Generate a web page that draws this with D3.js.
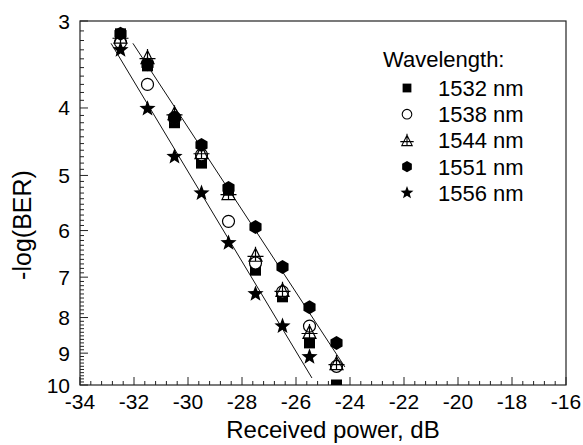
<!DOCTYPE html>
<html>
  <head>
    <meta charset="utf-8">
    <script src="https://d3js.org/d3.v7.min.js"></script>
    <style>
      body { margin: 0; background: #fff; font-family: "Liberation Sans", Arial, sans-serif; }
      .frame { fill: none; stroke: #222; stroke-width: 1.2px; }
      .tick { stroke: #222; stroke-width: 1px; }
      .fit { stroke: #111; stroke-width: 1px; fill: none; }
    </style>
  </head>
  <body>
    <div id="chart"></div>
    <script>
    // received power, dB (one column of points per value)
    var power = [-32.5, -31.5, -30.5, -29.5, -28.5, -27.5, -26.5, -25.5, -24.5]
    // -log(BER)
    var ber1532 = [3.13, 3.48, 4.20, 4.80, 5.25, 6.84, 7.47, 8.70, 10.0]
    var ber1538 = [3.22, 3.70, 4.13, 4.67, 5.82, 6.68, 7.35, 8.23, 9.40]
    var ber1544 = [3.16, 3.38, 4.07, 4.63, 5.30, 6.50, 7.30, 8.39, 9.30]
    var ber1551 = [3.13, 3.46, 4.13, 4.52, 5.21, 5.93, 6.77, 7.73, 8.70]
    var ber1556 = [3.30, 4.01, 4.70, 5.30, 6.25, 7.40, 8.23, 9.11]
    // the two fitted lines, end points [power, -log(BER)]
    var fitA = [[-32.04, 3.23], [-24.19, 9.42]]
    var fitB = [[-32.85, 3.23], [-25.41, 9.77]]

    var xTicks = [-34, -32, -30, -28, -26, -24, -22, -20, -18, -16]
    var yTicks = [3, 4, 5, 6, 7, 8, 9, 10]
    var seriesNames = ["1532 nm", "1538 nm", "1544 nm", "1551 nm", "1556 nm"]

    var W = 583, H = 445
    // plot box (window.top is read-only, so no "top" here)
    var pL = 80, pR = 566, pT = 21, pB = 385

    var x = d3.scaleLinear().domain([-34, -16]).range([pL, pR])
    var y = d3.scaleLog().domain([3, 10]).range([pT, pB])

    var svg = d3.select("#chart").append("svg")
        .attr("width", W).attr("height", H)

    svg.append("defs").append("clipPath").attr("id", "plotclip")
        .append("rect").attr("x", pL).attr("y", pT)
        .attr("width", pR - pL).attr("height", pB - pT)

    // ---- marker shapes
    function hexPath(r) {
        var p = []
        for (var k = 0; k < 6; k++) {
            var a = -Math.PI / 2 + k * Math.PI / 3
            p.push([r * Math.cos(a), r * Math.sin(a)])
        }
        return "M" + p.join("L") + "Z"
    }
    function starPath(R) {
        var p = [], ri = R * 0.42
        for (var k = 0; k < 10; k++) {
            var a = -Math.PI / 2 + k * Math.PI / 5
            var rr = k % 2 ? ri : R
            p.push([rr * Math.cos(a), rr * Math.sin(a)])
        }
        return "M" + p.join("L") + "Z"
    }
    function triPlusPath(w) {
        var h = w
        return "M0," + (-h / 2) + "L" + (w / 2) + "," + (h / 2) + "L" + (-w / 2) + "," + (h / 2) + "Z"
            + "M0," + (-h / 2 - 1.5) + "V" + (h / 2)
            + "M" + (-w / 2 - 1.5) + "," + (h * 0.12) + "H" + (w / 2 + 1.5)
    }
    function squarePath(s) {
        return "M" + (-s / 2) + "," + (-s / 2) + "h" + s + "v" + s + "h" + (-s) + "Z"
    }
    function circlePath(d) {
        return d3.symbol().type(d3.symbolCircle).size(Math.PI * d * d / 4)()
    }

    var styles = [
        {path: function(k){ return squarePath(11 * k) }, fill: "#000", stroke: "none"},
        {path: function(k){ return circlePath(12 * k) }, fill: "#fff", stroke: "#000"},
        {path: function(k){ return triPlusPath(13 * k) }, fill: "none", stroke: "#000"},
        {path: function(k){ return hexPath(7 * k) }, fill: "#000", stroke: "none"},
        {path: function(k){ return starPath(8.5 * k) }, fill: "#000", stroke: "none"}
    ]
    var allSeries = [ber1532, ber1538, ber1544, ber1551, ber1556]

    // ---- ticks (inward)
    var yMinor = d3.range(30, 100).filter(function(d){ return d % 10 != 0 }).map(function(d){ return d / 10 })
    var xMinor = d3.range(-34, -16, 0.4).filter(function(d){ return Math.abs(d / 2 - Math.round(d / 2)) > 0.01 })

    var ticks = svg.append("g")
    ticks.selectAll(".ym").data(yMinor).enter().append("line").attr("class", "tick")
        .attr("x1", pL).attr("x2", pL + 4)
        .attr("y1", function(d){ return y(d) }).attr("y2", function(d){ return y(d) })
    ticks.selectAll(".yM").data(yTicks).enter().append("line").attr("class", "tick")
        .attr("x1", pL).attr("x2", pL + 8)
        .attr("y1", function(d){ return y(d) }).attr("y2", function(d){ return y(d) })
    ticks.selectAll(".xm").data(xMinor).enter().append("line").attr("class", "tick")
        .attr("x1", function(d){ return x(d) }).attr("x2", function(d){ return x(d) })
        .attr("y1", pB).attr("y2", pB - 4)
    ticks.selectAll(".xM").data(xTicks).enter().append("line").attr("class", "tick")
        .attr("x1", function(d){ return x(d) }).attr("x2", function(d){ return x(d) })
        .attr("y1", pB).attr("y2", pB - 8)

    svg.append("rect").attr("class", "frame")
        .attr("x", pL).attr("y", pT).attr("width", pR - pL).attr("height", pB - pT)

    // tick labels
    svg.selectAll(".xl").data(xTicks).enter().append("text")
        .attr("x", function(d){ return x(d) }).attr("y", pB + 24)
        .attr("text-anchor", "middle").attr("font-size", 21)
        .text(function(d){ return d })
    svg.selectAll(".yl").data(yTicks).enter().append("text")
        .attr("x", pL - 10).attr("y", function(d){ return y(d) + 7.5 })
        .attr("text-anchor", "end").attr("font-size", 21)
        .text(function(d){ return d })

    // axis titles
    svg.append("text").attr("x", 333).attr("y", 438)
        .attr("text-anchor", "middle").attr("font-size", 24)
        .text("Received power, dB")
    svg.append("text").attr("transform", "translate(31,225) rotate(-90)")
        .attr("text-anchor", "middle").attr("font-size", 25)
        .text("-log(BER)")

    // fitted lines
    var line = d3.line().x(function(d){ return x(d[0]) }).y(function(d){ return y(d[1]) })
    var plot = svg.append("g").attr("clip-path", "url(#plotclip)")
    plot.append("path").attr("class", "fit").attr("d", line(fitA))
    plot.append("path").attr("class", "fit").attr("d", line(fitB))

    // points
    allSeries.forEach(function(vals, i){
        var st = styles[i]
        plot.append("g").selectAll("path").data(vals).enter().append("path")
            .attr("transform", function(d, j){ return "translate(" + x(power[j]) + "," + y(d) + ")" })
            .attr("d", st.path(1))
            .attr("fill", st.fill).attr("stroke", st.stroke).attr("stroke-width", 1.2)
    })

    // legend
    var leg = svg.append("g")
    leg.append("text").attr("x", 383).attr("y", 67).attr("font-size", 22).text("Wavelength:")
    seriesNames.forEach(function(name, i){
        var cy = 88 + i * 26.2
        var st = styles[i]
        leg.append("path").attr("transform", "translate(407," + cy + ")")
            .attr("d", st.path(0.8))
            .attr("fill", st.fill).attr("stroke", st.stroke).attr("stroke-width", 1.1)
        leg.append("text").attr("x", 438).attr("y", cy + 8).attr("font-size", 22).text(name)
    })
    </script>
  </body>
</html>
